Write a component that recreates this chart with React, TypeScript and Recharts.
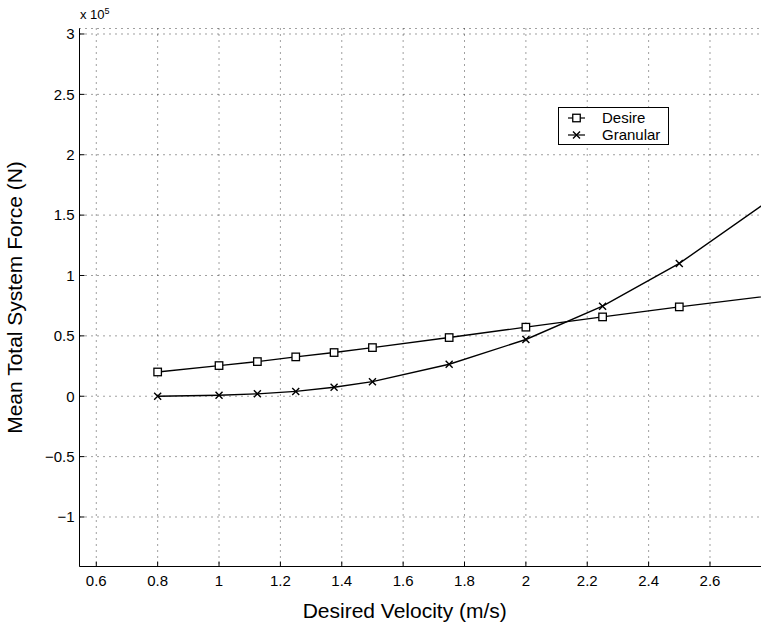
import { CartesianGrid, Label, Legend, Line, LineChart, XAxis, YAxis } from "recharts";

// Desired velocity (m/s) for each run
const velocity = [0.8, 1.0, 1.125, 1.25, 1.375, 1.5, 1.75, 2.0, 2.25, 2.5, 3.0];
// Mean total system force (N)
const desireForce = [20100, 25400, 28700, 32600, 36200, 40300, 48600, 57200, 65700, 74000, 89600];
const granularForce = [0, 800, 2000, 4000, 7400, 12100, 26500, 47000, 74600, 110000, 199000];

const xTicks = [0.6, 0.8, 1, 1.2, 1.4, 1.6, 1.8, 2, 2.2, 2.4, 2.6];
const yTicks = [-100000, -50000, 0, 50000, 100000, 150000, 200000, 250000, 300000];

const X_DOMAIN: [number, number] = [0.5453, 2.7695];
const Y_DOMAIN: [number, number] = [-141000, 304550];
const FONT = '"Liberation Sans", Arial, Helvetica, sans-serif';

const data = velocity.map((v, i) => ({
  v,
  desire: desireForce[i],
  granular: granularForce[i],
}));

function SquareDot(props: any) {
  const { cx, cy } = props;
  if (cx == null || cy == null) return null;
  return (
    <rect x={cx - 3.75} y={cy - 3.75} width={7.5} height={7.5} fill="#fff" stroke="#000" strokeWidth={1.3} />
  );
}

function CrossDot(props: any) {
  const { cx, cy } = props;
  if (cx == null || cy == null) return null;
  const r = 3.5;
  return (
    <path
      d={`M${cx - r},${cy - r}L${cx + r},${cy + r}M${cx - r},${cy + r}L${cx + r},${cy - r}`}
      stroke="#000"
      strokeWidth={1.4}
      fill="none"
    />
  );
}

function LegendBox() {
  const row = (name: string, marker: "square" | "cross") => (
    <div style={{ display: "flex", alignItems: "center", height: 17 }}>
      <svg width={40} height={12} style={{ marginLeft: 6 }}>
        <line x1={3} y1={6} x2={20} y2={6} stroke="#000" strokeWidth={1.2} />
        {marker === "square" ? <SquareDot cx={11.5} cy={6} /> : <CrossDot cx={11.5} cy={6} />}
      </svg>
      <span style={{ marginLeft: -3 }}>{name}</span>
    </div>
  );
  return (
    <div
      style={{
        boxSizing: "border-box",
        width: 111,
        height: 38,
        border: "1px solid #000",
        background: "#fff",
        paddingTop: 1,
        fontFamily: FONT,
        fontSize: 15,
        color: "#000",
        lineHeight: "17px",
      }}
    >
      {row("Desire", "square")}
      {row("Granular", "cross")}
    </div>
  );
}

const fmtY = (v: number) => String(Math.round(v / 5000) / 20).replace("-", "\u2212");

export default function App() {
  return (
    <div
      style={{
        position: "fixed",
        left: 0,
        top: 0,
        width: 761,
        height: 628,
        overflow: "hidden",
        background: "#fff",
      }}
    >
      <div style={{ position: "absolute", left: 80, top: 6, fontFamily: FONT, fontSize: 13, color: "#000" }}>
        x 10<sup style={{ fontSize: 9, verticalAlign: "5px" }}>5</sup>
      </div>
      <LineChart
        width={764}
        height={628}
        data={data}
        margin={{ top: 28.5, right: 2, bottom: 31.5, left: 9.5 }}
        style={{ fontFamily: FONT }}
      >
        <CartesianGrid stroke="#000" strokeOpacity={0.75} strokeDasharray="1 5" />
        <XAxis
          dataKey="v"
          type="number"
          domain={X_DOMAIN}
          allowDataOverflow
          ticks={xTicks}
          interval={0}
          height={30}
          tickSize={-5}
          tickMargin={14}
          stroke="#000"
          tick={{ fill: "#000", fontSize: 15 }}
        >
          <Label value="Desired Velocity (m/s)" position="bottom" offset={7} dx={-16} fill="#000" fontSize={21} />
        </XAxis>
        <XAxis
          xAxisId="top"
          orientation="top"
          dataKey="v"
          type="number"
          domain={X_DOMAIN}
          allowDataOverflow
          ticks={xTicks}
          interval={0}
          height={0}
          tickSize={-5}
          tickFormatter={() => ""}
          stroke="#000"
        />
        <YAxis
          type="number"
          domain={Y_DOMAIN}
          allowDataOverflow
          ticks={yTicks}
          interval={0}
          width={70}
          tickSize={-5}
          tickMargin={10}
          tickFormatter={fmtY}
          stroke="#000"
          tick={{ fill: "#000", fontSize: 15 }}
        >
          <Label
            value="Mean Total System Force (N)"
            angle={-90}
            position="center"
            dx={-29.5}
            fill="#000"
            fontSize={21}
          />
        </YAxis>
        <YAxis
          yAxisId="right"
          orientation="right"
          type="number"
          domain={Y_DOMAIN}
          allowDataOverflow
          ticks={yTicks}
          interval={0}
          width={0}
          tickSize={-5}
          tickFormatter={() => ""}
          stroke="#000"
        />
        <Legend
          layout="horizontal"
          verticalAlign="middle"
          wrapperStyle={{ left: 558, top: 107, width: 111, height: 38 }}
          content={() => <LegendBox />}
        />
        <Line
          type="linear"
          dataKey="desire"
          name="Desire"
          stroke="#000"
          strokeWidth={1.4}
          dot={(p: any) => <SquareDot key={`d-${p.index}`} {...p} />}
          isAnimationActive={false}
        />
        <Line
          type="linear"
          dataKey="granular"
          name="Granular"
          stroke="#000"
          strokeWidth={1.4}
          dot={(p: any) => <CrossDot key={`g-${p.index}`} {...p} />}
          isAnimationActive={false}
        />
      </LineChart>
    </div>
  );
}
